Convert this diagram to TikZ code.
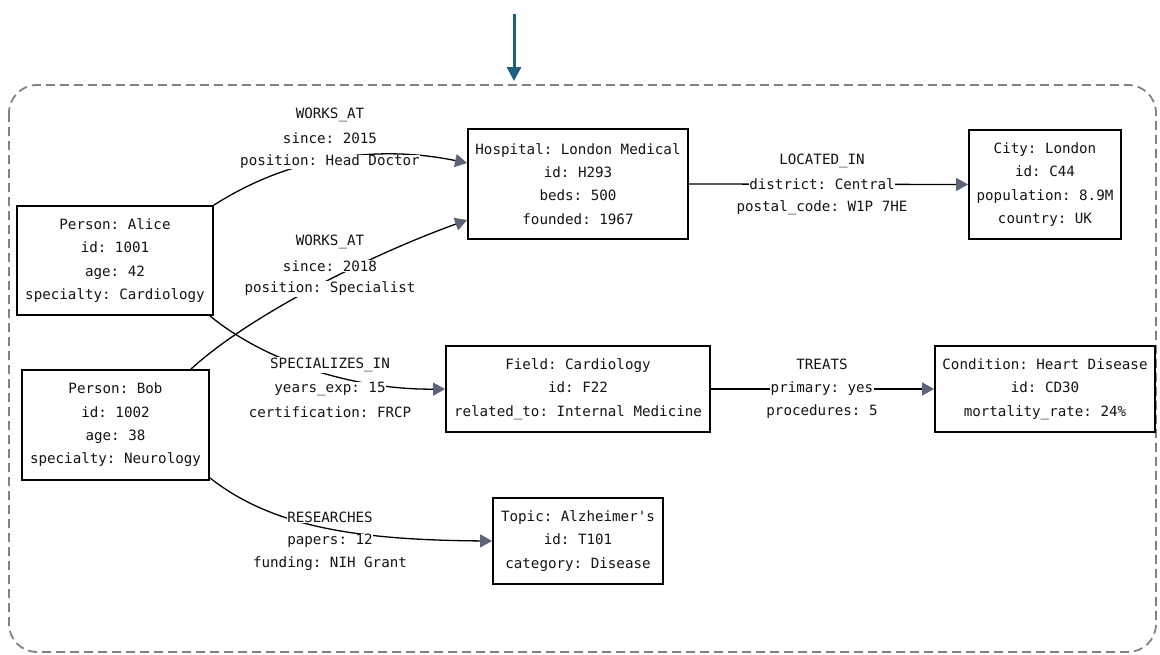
\documentclass[tikz,border=0pt]{standalone}
\usepackage{fontspec}
\setmonofont{DejaVu Sans Mono}
\usetikzlibrary{arrows.meta,calc}
\definecolor{arrowc}{HTML}{5B6478}
\definecolor{topc}{HTML}{1F5F7F}
\definecolor{framec}{HTML}{828282}
\definecolor{txt}{HTML}{141414}
\begin{document}
\begin{tikzpicture}[x=1pt,y=-1pt,
  box/.style={draw=black,line width=1.8pt,fill=white,align=center,inner sep=0pt,
    text=txt,font={\fontsize{14.2}{23.3}\selectfont\ttfamily}},
  lbl/.style={fill=white,inner sep=0.6pt,text=txt,font={\fontsize{14.2}{16}\selectfont\ttfamily}},
  edge/.style={draw=black,line width=1.3pt,-{Triangle[length=12pt,width=13pt,color=arrowc]}}]
\useasboundingbox (0,0) rectangle (1160,654);
% frame
\draw[framec,line width=1.8pt,dash pattern=on 9pt off 5pt,rounded corners=28pt] (9,85) rectangle (1156,652);
% top arrow
\coordinate (ts) at (514,14);
\coordinate (te) at (514,81);
\draw[topc,line width=3pt,-{Triangle[length=14pt,width=14pt]}] (ts) -- (te);
% nodes
\node[box,minimum width=196pt,minimum height=109pt] (A) at (115,260.5) {Person: Alice\\id: 1001\\age: 42\\specialty: Cardiology};
\node[box,minimum width=187pt,minimum height=110pt] (B) at (115.5,425) {Person: Bob\\id: 1002\\age: 38\\specialty: Neurology};
\node[box,minimum width=220pt,minimum height=110pt] (H) at (578,184) {Hospital: London Medical\\id: H293\\beds: 500\\founded: 1967};
\node[box,minimum width=152pt,minimum height=109pt] (C) at (1045,184.5) {City: London\\id: C44\\population: 8.9M\\country: UK};
\node[box,minimum width=264pt,minimum height=86pt] (F) at (578,389) {Field: Cardiology\\id: F22\\related\_to: Internal Medicine};
\node[box,minimum width=220pt,minimum height=86pt] (D) at (1045,389) {Condition: Heart Disease\\id: CD30\\mortality\_rate: 24\%};
\node[box,minimum width=170pt,minimum height=86pt] (T) at (578,541) {Topic: Alzheimer's\\id: T101\\category: Disease};
% connectors
\coordinate (h1) at ($(H.west)+(0,-21)$);
\coordinate (h2) at ($(H.west)+(0,36)$);
\coordinate (b1) at ($(B.north east)+(-19,0)$);
\coordinate (a2) at ($(A.south east)+(-4,0)$);
\coordinate (b2) at ($(B.south east)+(0,-3)$);
\draw[edge] (A.north east) .. controls (300,150) and (390,147) .. (h1);
\draw[edge] (b1) .. controls (250,315) and (370,255) .. (h2);
\draw[edge] (a2) .. controls (270,365) and (360,390) .. (F.west);
\draw[edge] (b2) .. controls (270,525) and (350,540) .. (T.west);
\draw[edge] (H.east) -- (C.west);
\draw[edge] (F.east) -- (D.west);
% edge labels
\node[lbl] (w1a) at (330,115) {WORKS\_AT};
\node[lbl] (w1b) at (330,138) {since: 2015};
\node[lbl] (w1c) at (330,162) {position: Head Doctor};
\node[lbl] (w2a) at (330,242) {WORKS\_AT};
\node[lbl] (w2b) at (330,266) {since: 2018};
\node[lbl] (w2c) at (330,289) {position: Specialist};
\node[lbl] (s1) at (330,365) {SPECIALIZES\_IN};
\node[lbl] (s2) at (330,389) {years\_exp: 15};
\node[lbl] (s3) at (330,412) {certification: FRCP};
\node[lbl] (r1) at (330,517) {RESEARCHES};
\node[lbl] (r2) at (330,541) {papers: 12};
\node[lbl] (r3) at (330,564) {funding: NIH Grant};
\node[lbl] (l1) at (822,161) {LOCATED\_IN};
\node[lbl] (l2) at (822,184) {district: Central};
\node[lbl] (l3) at (822,208) {postal\_code: W1P 7HE};
\node[lbl] (t1) at (822,364) {TREATS};
\node[lbl] (t2) at (822,389) {primary: yes};
\node[lbl] (t3) at (822,412) {procedures: 5};
\end{tikzpicture}
\end{document}
